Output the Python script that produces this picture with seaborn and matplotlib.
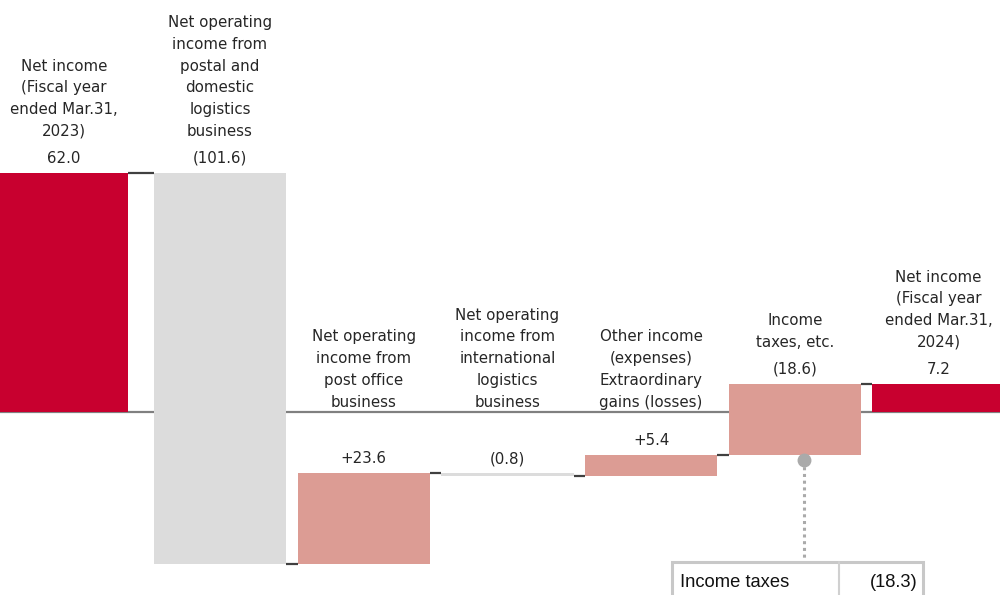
import matplotlib
matplotlib.use("Agg")
import matplotlib.pyplot as plt
from matplotlib.patches import Rectangle
import seaborn as sns
import pandas as pd
import numpy as np

# ---- data ----
categories = [
    "Net income\n(Fiscal year\nended Mar.31,\n2023)",
    "Net operating\nincome from\npostal and\ndomestic\nlogistics\nbusiness",
    "Net operating\nincome from\npost office\nbusiness",
    "Net operating\nincome from\ninternational\nlogistics\nbusiness",
    "Other income\n(expenses)\nExtraordinary\ngains (losses)",
    "Income\ntaxes, etc.",
    "Net income\n(Fiscal year\nended Mar.31,\n2024)",
]
changes = [62.0, -101.6, 23.6, -0.8, 5.4, 18.6, 7.2]
value_labels = ["62.0", "(101.6)", "+23.6", "(0.8)", "+5.4", "(18.6)", "7.2"]
kinds = ["total", "decrease", "increase", "decrease", "increase", "increase", "total"]
callout_label = "Income taxes"
callout_value = "(18.3)"

# ---- waterfall geometry from data ----
bottoms, tops, running = [], [], []
level = 0.0
for v, k in zip(changes, kinds):
    if k == "total":
        b, t = 0.0, v
        level = v
    else:
        b, t = level, level + v
        level = level + v
    running.append(level)
    bottoms.append(min(b, t))
    tops.append(max(b, t))
heights = [t - b for b, t in zip(bottoms, tops)]

colors = {"total": "#C8002F", "decrease": "#DCDCDC", "increase": "#DC9C94"}
xpos = [-0.086, 1, 2, 3, 4, 5, 6]
widths = [0.891, 0.92, 0.92, 0.92, 0.92, 0.92, 0.92]

df = pd.DataFrame({"x": xpos, "bottom": bottoms, "height": heights,
                   "kind": kinds, "width": widths})

sns.set_style("white")
plt.rcParams["font.family"] = ["DejaVu Sans"]

fig = plt.figure(figsize=(10, 5.95), dpi=100)
ax = fig.add_axes([0, 0, 1, 1])

# baseline
ax.axhline(0, color="#808080", lw=1.6, zorder=1)

for _, r in df.iterrows():
    ax.bar(r["x"], r["height"], bottom=r["bottom"], width=r["width"],
           color=colors[r["kind"]], zorder=2, linewidth=0)

# connectors
for i in range(len(changes) - 1):
    x0 = xpos[i] + widths[i] / 2
    x1 = xpos[i + 1] - widths[i + 1] / 2
    ax.plot([x0, x1], [running[i], running[i]], color="#404040", lw=1.6,
            zorder=3, solid_capstyle="butt")

# labels
fs = 10.8
txtc = "#262626"
for i in range(len(changes)):
    ax.annotate(value_labels[i], (xpos[i], tops[i]), xytext=(0, 7),
                textcoords="offset pixels", ha="center", va="bottom",
                fontsize=fs, color=txtc)
    if tops[i] > 0:
        ax.annotate(categories[i], (xpos[i], tops[i]), xytext=(0, 34),
                    textcoords="offset pixels", ha="center", va="bottom",
                    fontsize=fs, color=txtc, linespacing=1.56)
    else:
        ax.annotate(categories[i], (xpos[i], 0), xytext=(0, 2),
                    textcoords="offset pixels", ha="center", va="bottom",
                    fontsize=fs, color=txtc, linespacing=1.56)

# callout for income taxes
cx = xpos[5] + 0.063
ax.plot([cx, cx], [bottoms[5] - 1.2, -39.0], color="#AAAAAA", lw=2.2,
        ls=(0, (1, 1.2)), zorder=3)
ax.plot([cx], [bottoms[5] - 1.2], "o", color="#AAAAAA", ms=9, zorder=4)
ax.add_patch(Rectangle((4.145, -60), 5.892 - 4.145, 21.0, fill=False,
                       edgecolor="#C8C8C8", lw=2.2, zorder=3))
ax.plot([5.308, 5.308], [-39.0, -60], color="#D0D0D0", lw=1.5, zorder=3)
ax.text(4.2, -44.3, callout_label, ha="left", va="center", fontsize=13.2,
        family="Liberation Sans", color="#111111")
ax.text(5.855, -44.3, callout_value, ha="right", va="center", fontsize=13.2,
        family="Liberation Sans", color="#111111")

ax.set_xlim(-0.531, 6.428)
ax.set_ylim(-47.66, 106.9)
ax.axis("off")
fig.savefig("out.png", dpi=100)
